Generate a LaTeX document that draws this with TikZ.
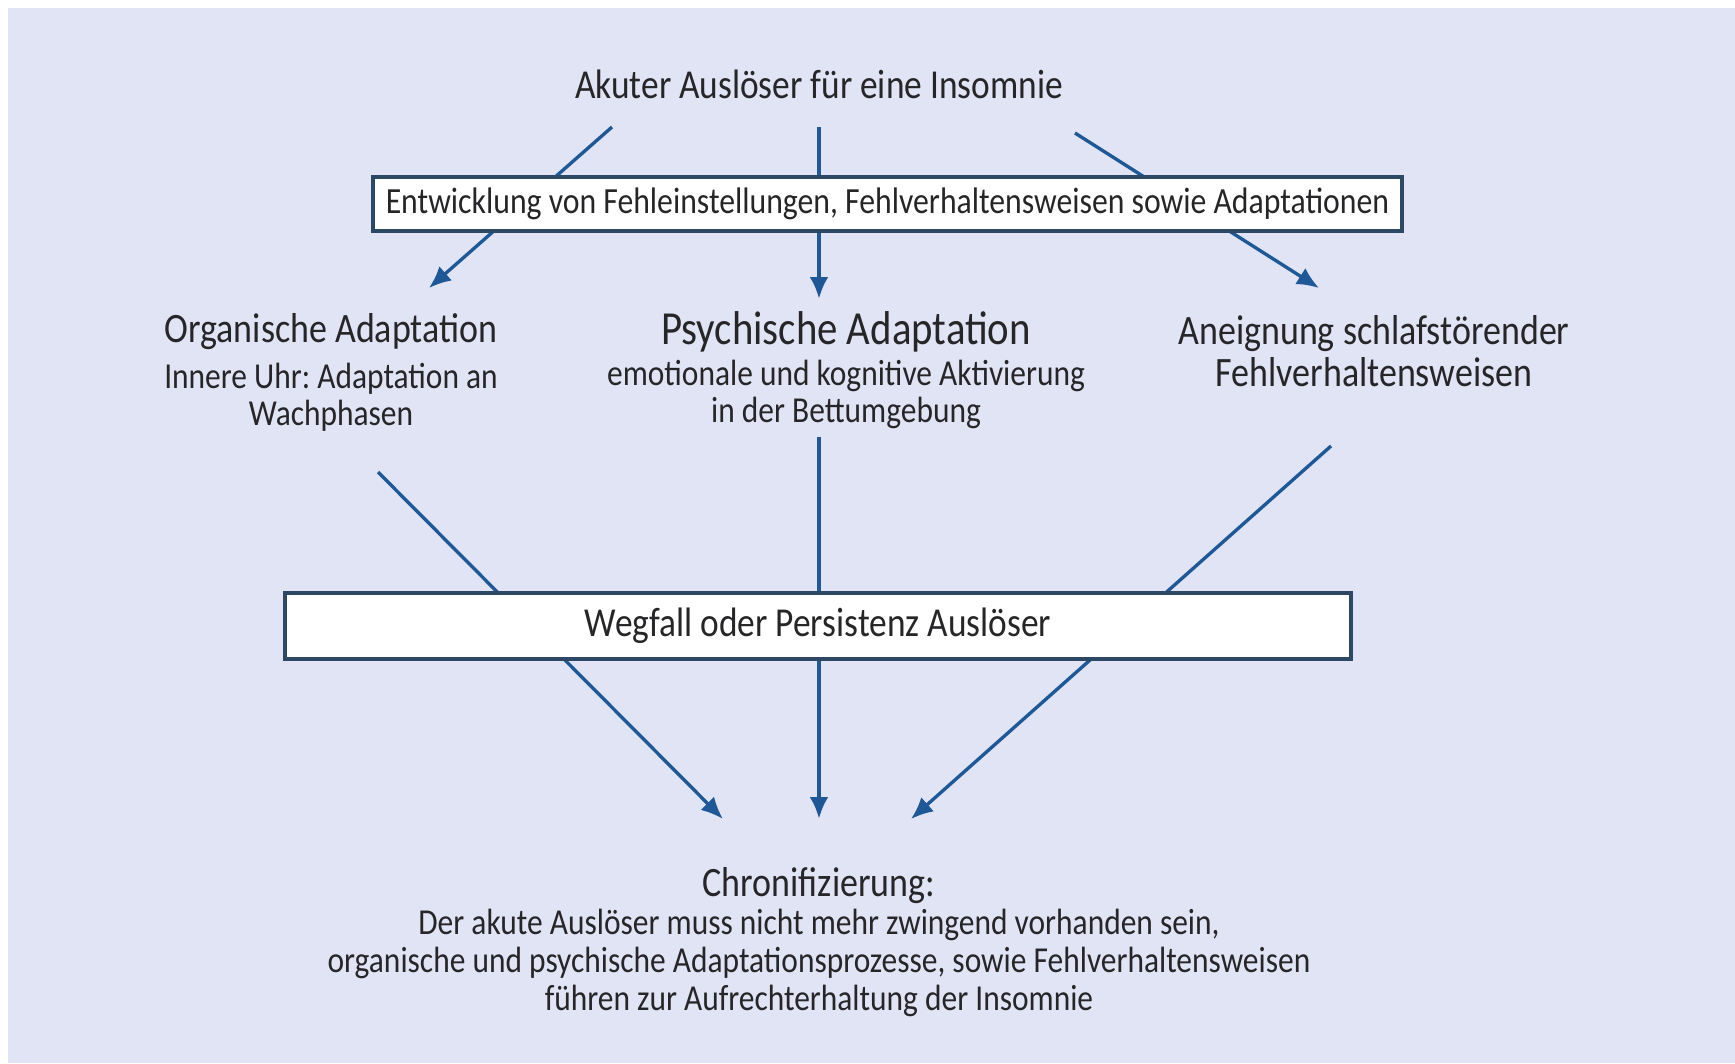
\documentclass[tikz,border=0pt]{standalone}
\usepackage{fontspec}
\setmainfont{Carlito}[FakeStretch=0.86]
\usetikzlibrary{arrows.meta,positioning}
\definecolor{panel}{RGB}{224,228,244}
\definecolor{flow}{RGB}{31,88,150}
\definecolor{frame}{RGB}{44,72,100}
\definecolor{ink}{RGB}{38,38,40}
\frenchspacing

\begin{document}
\begin{tikzpicture}[
    x=0.1mm, y=-0.1mm,
    every node/.style={text=ink, inner sep=0pt},
    heading/.style={font=\fontsize{11.9}{11.9}\selectfont, align=center},
    bigheading/.style={font=\fontsize{13.5}{14}\selectfont},
    detail/.style={font=\fontsize{10.4}{10.5}\selectfont, align=center},
    summary/.style={font=\fontsize{10.4}{10.8}\selectfont, align=center},
    framebox/.style={draw=frame, line width=0.9pt, fill=white, font=\fontsize{10.5}{11}\selectfont},
    arrow/.style={-{Latex[length=2.2mm,width=1.9mm]}, draw=flow, line width=0.95pt},
    mainarrow/.style={arrow, line width=1.35pt}
]
% panel
\fill[white] (0,0) rectangle (1735,1063);
\fill[panel] (8,8) rectangle (1735,1063);

% top level
\node[heading, font=\fontsize{11.7}{12}\selectfont] (trigger) at (819,84) {Akuter Auslöser für eine Insomnie};
\coordinate (trigL) at (612,127);
\coordinate (trigM) at (819,127);
\coordinate (trigR) at (1075,133);

% middle level
\node[heading] (organic) at (331,332) {Organische Adaptation};
\node[detail] (organicdetail) at (331,397) {Innere Uhr: Adaptation an\\Wachphasen};
\node[bigheading] (psych) at (846,332) {Psychische Adaptation};
\node[detail] (psychdetail) at (846,394) {emotionale und kognitive Aktivierung\\in der Bettumgebung};
\node[heading] (habits) at (1374,351) {Aneignung schlafstörender\\Fehlverhaltensweisen};
\coordinate (organicIn) at (429,288);
\coordinate (psychIn) at (819,299);
\coordinate (habitsIn) at (1319,288);
\coordinate (organicOut) at (378,472);
\coordinate (psychOut) at (819,437);
\coordinate (habitsOut) at (1331,446);

% bottom level
\node[heading] (chronic) at (819,886) {Chronifizierung:};
\node[summary] (chronicdetail) at (819,963) {Der akute Auslöser muss nicht mehr zwingend vorhanden sein,\\organische und psychische Adaptationsprozesse, sowie Fehlverhaltensweisen\\führen zur Aufrechterhaltung der Insomnie};
\coordinate (chronicL) at (723,819);
\coordinate (chronicM) at (819,819);
\coordinate (chronicR) at (911,819);

% arrows (behind the boxes)
\draw[arrow] (trigL) -- (organicIn);
\draw[mainarrow] (trigM) -- (psychIn);
\draw[arrow] (trigR) -- (habitsIn);
\draw[arrow] (organicOut) -- (chronicL);
\draw[mainarrow] (psychOut) -- (chronicM);
\draw[arrow] (habitsOut) -- (chronicR);

% boxes
\node[framebox, minimum width=102.9mm, minimum height=5.4mm] (develop) at (887.5,204)
    {Entwicklung von Fehleinstellungen, Fehlverhaltensweisen sowie Adaptationen};
\node[framebox, minimum width=106.6mm, minimum height=6.6mm, font=\fontsize{11.7}{12}\selectfont] (persist) at (818,626)
    {Wegfall oder Persistenz Auslöser};
\end{tikzpicture}
\end{document}
